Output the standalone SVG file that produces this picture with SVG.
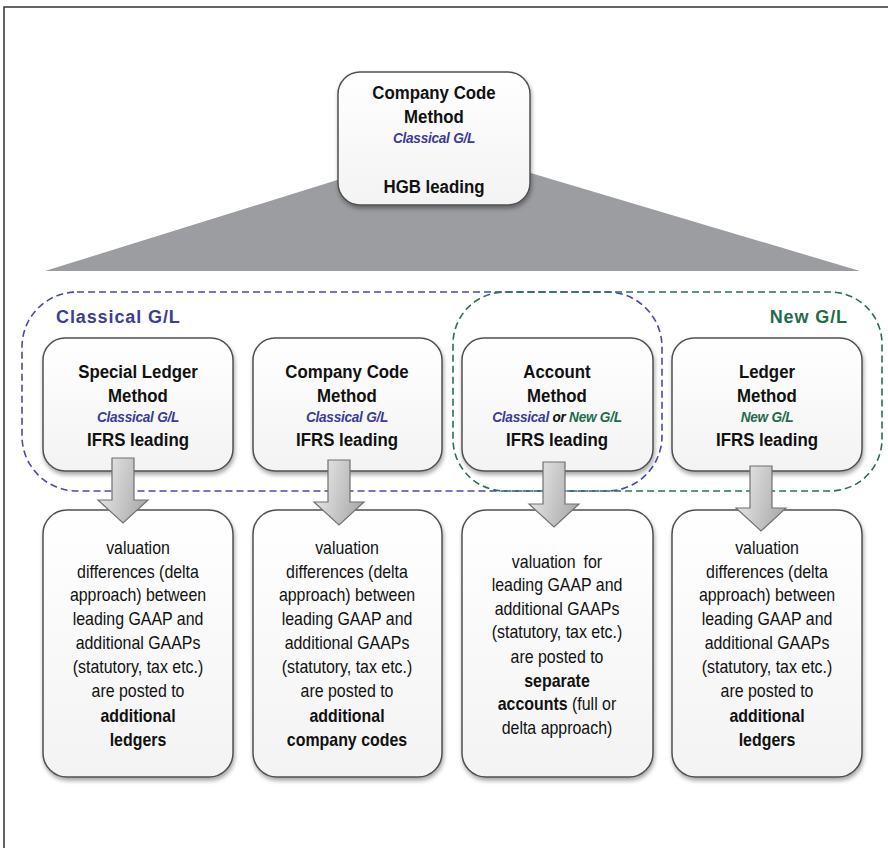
<svg xmlns="http://www.w3.org/2000/svg" width="888" height="848" viewBox="0 0 888 848">
<defs>
<linearGradient id="boxg" x1="0" y1="0" x2="0" y2="1"><stop offset="0" stop-color="#ffffff"/><stop offset="1" stop-color="#f3f3f3"/></linearGradient>
<linearGradient id="arrg" x1="0" y1="0" x2="1" y2="0.3"><stop offset="0" stop-color="#f0f0f0"/><stop offset="1" stop-color="#aeaeae"/></linearGradient>
<filter id="sh" x="-10%" y="-10%" width="120%" height="125%"><feDropShadow dx="1" dy="3" stdDeviation="2" flood-color="#000" flood-opacity="0.35"/></filter>
<style>
.box{fill:url(#boxg);stroke:#505050;stroke-width:1.5;filter:url(#sh)}
.arr{fill:url(#arrg);stroke:#707070;stroke-width:1.2}
.h{font-family:"Liberation Sans",Arial,sans-serif;font-weight:bold;font-size:18.5px;fill:#111;text-anchor:middle}
.s{font-family:"Liberation Sans",Arial,sans-serif;font-weight:bold;font-style:italic;font-size:15px;text-anchor:middle;letter-spacing:-0.3px}
.t{font-family:"Liberation Sans",Arial,sans-serif;font-size:17.5px;fill:#111;text-anchor:middle}
.tb{font-weight:bold}
.blue{fill:#3c3c99}
.green{fill:#1f6b4e}
.grp{font-family:"Liberation Sans",Arial,sans-serif;font-weight:bold;font-size:18px;letter-spacing:0.9px}
</style>
</defs>
<rect width="888" height="848" fill="#ffffff"/>
<path d="M4,848 V7 H888" fill="none" stroke="#333" stroke-width="1.5"/>
<polygon points="45,271 443,147 860,271" fill="#9b9da1"/>

<g id="top">
<rect class="box" x="338" y="72" width="192" height="133" rx="22"/>
<g transform="translate(434,0) scale(0.91,1)">
<text class="h" x="0" y="99">Company Code</text>
<text class="h" x="0" y="123">Method</text>
<text class="s blue" x="0" y="143">Classical G/L</text>
<text class="h" x="0" y="193">HGB leading</text>
</g>
</g>

<g id="groups" fill="none" stroke-width="1.6" stroke-dasharray="7,4">
<rect x="22" y="292" width="640" height="199" rx="55" stroke="#4a4aa8"/>
<rect x="453" y="292" width="429" height="199" rx="52" stroke="#2a7058"/>
</g>
<text class="grp blue" x="56" y="323">Classical G/L</text>
<text class="grp green" x="848" y="323" text-anchor="end">New G/L</text>

<g id="m1">
<rect class="box" x="43" y="338" width="190" height="133" rx="22"/>
<g transform="translate(138,0) scale(0.91,1)">
<text class="h" x="0" y="378">Special Ledger</text>
<text class="h" x="0" y="402">Method</text>
<text class="s blue" x="0" y="422">Classical G/L</text>
<text class="h" x="0" y="446">IFRS leading</text>
</g>
</g>
<g id="m2">
<rect class="box" x="253" y="338" width="189" height="133" rx="22"/>
<g transform="translate(347,0) scale(0.91,1)">
<text class="h" x="0" y="378">Company Code</text>
<text class="h" x="0" y="402">Method</text>
<text class="s blue" x="0" y="422">Classical G/L</text>
<text class="h" x="0" y="446">IFRS leading</text>
</g>
</g>
<g id="m3">
<rect class="box" x="462" y="338" width="191" height="133" rx="22"/>
<g transform="translate(557,0) scale(0.91,1)">
<text class="h" x="0" y="378">Account</text>
<text class="h" x="0" y="402">Method</text>
<text class="s" x="0" y="422"><tspan class="blue">Classical</tspan><tspan fill="#111"> or </tspan><tspan class="green">New G/L</tspan></text>
<text class="h" x="0" y="446">IFRS leading</text>
</g>
</g>
<g id="m4">
<rect class="box" x="672" y="338" width="190" height="133" rx="22"/>
<g transform="translate(767,0) scale(0.91,1)">
<text class="h" x="0" y="378">Ledger</text>
<text class="h" x="0" y="402">Method</text>
<text class="s green" x="0" y="422">New G/L</text>
<text class="h" x="0" y="446">IFRS leading</text>
</g>
</g>

<g id="r1">
<rect class="box" x="43" y="510" width="190" height="267" rx="24"/>
<g transform="translate(138,0) scale(0.91,1)">
<text class="t" x="0" y="554">valuation</text>
<text class="t" x="0" y="578">differences (delta</text>
<text class="t" x="0" y="601">approach) between</text>
<text class="t" x="0" y="625">leading GAAP and</text>
<text class="t" x="0" y="649">additional GAAPs</text>
<text class="t" x="0" y="673">(statutory, tax etc.)</text>
<text class="t" x="0" y="697">are posted to</text>
<text class="t tb" x="0" y="722">additional</text>
<text class="t tb" x="0" y="746">ledgers</text>
</g>
</g>
<g id="r2">
<rect class="box" x="253" y="510" width="189" height="267" rx="24"/>
<g transform="translate(347,0) scale(0.91,1)">
<text class="t" x="0" y="554">valuation</text>
<text class="t" x="0" y="578">differences (delta</text>
<text class="t" x="0" y="601">approach) between</text>
<text class="t" x="0" y="625">leading GAAP and</text>
<text class="t" x="0" y="649">additional GAAPs</text>
<text class="t" x="0" y="673">(statutory, tax etc.)</text>
<text class="t" x="0" y="697">are posted to</text>
<text class="t tb" x="0" y="722">additional</text>
<text class="t tb" x="0" y="746">company codes</text>
</g>
</g>
<g id="r3">
<rect class="box" x="462" y="510" width="191" height="267" rx="24"/>
<g transform="translate(557,0) scale(0.91,1)">
<text class="t" x="0" y="568" word-spacing="4">valuation for</text>
<text class="t" x="0" y="591">leading GAAP and</text>
<text class="t" x="0" y="615">additional GAAPs</text>
<text class="t" x="0" y="638">(statutory, tax etc.)</text>
<text class="t" x="0" y="663">are posted to</text>
<text class="t tb" x="0" y="687">separate</text>
<text class="t" x="0" y="710"><tspan class="tb">accounts</tspan> (full or</text>
<text class="t" x="0" y="734">delta approach)</text>
</g>
</g>
<g id="r4">
<rect class="box" x="672" y="510" width="190" height="267" rx="24"/>
<g transform="translate(767,0) scale(0.91,1)">
<text class="t" x="0" y="554">valuation</text>
<text class="t" x="0" y="578">differences (delta</text>
<text class="t" x="0" y="601">approach) between</text>
<text class="t" x="0" y="625">leading GAAP and</text>
<text class="t" x="0" y="649">additional GAAPs</text>
<text class="t" x="0" y="673">(statutory, tax etc.)</text>
<text class="t" x="0" y="697">are posted to</text>
<text class="t tb" x="0" y="722">additional</text>
<text class="t tb" x="0" y="746">ledgers</text>
</g>
</g>

<g id="connectors">
<path class="arr" d="M112,458 H134 V500 H148 L123,523 L98,500 H112 Z"/>
<path class="arr" d="M328,460 H350 V502 H364 L339,525 L314,502 H328 Z"/>
<path class="arr" d="M543,462 H565 V504 H579 L554,527 L529,504 H543 Z"/>
<path class="arr" d="M750,466 H772 V508 H786 L761,531 L736,508 H750 Z"/>
</g>
</svg>
